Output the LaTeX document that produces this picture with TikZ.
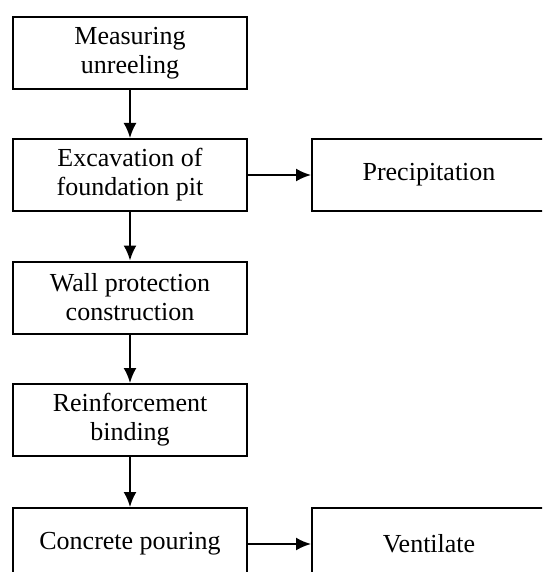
\documentclass[tikz,border=0pt]{standalone}
\usepackage{fontspec}
\setmainfont{Liberation Serif}
\usetikzlibrary{arrows.meta}

\begin{document}
\begin{tikzpicture}[x=1pt, y=-1pt, every node/.style={font=\fontsize{26}{29}\selectfont}, >={Latex[length=15pt, width=13pt]},
	stepbox/.style={draw, line width=2pt, minimum width=234pt, minimum height=72pt, align=center, inner sep=0pt},
	flow/.style={->, line width=2pt}]
	\useasboundingbox (0,0) rectangle (542,572);
	\clip (0,0) rectangle (542,572);
	% main column
	\node[stepbox] (measure) at (130,53) {Measuring\\unreeling};
	\node[stepbox] (excav) at (130,175) {Excavation of\\foundation pit};
	\node[stepbox] (wall) at (130,297.5) {Wall protection\\construction};
	\node[stepbox] (rebar) at (130,420) {Reinforcement\\binding};
	\node[stepbox] (pour) at (130,544) {Concrete pouring};
	% side boxes
	\node[stepbox] (precip) at (429,175) {Precipitation};
	\node[stepbox] (vent) at (429,544) {Ventilate};
	% arrows
	\draw[flow] (measure) -- (excav);
	\draw[flow] (excav) -- (wall);
	\draw[flow] (wall) -- (rebar);
	\draw[flow] (rebar) -- (pour);
	\draw[flow] (excav) -- (precip);
	\draw[flow] (pour) -- (vent);
\end{tikzpicture}
\end{document}
